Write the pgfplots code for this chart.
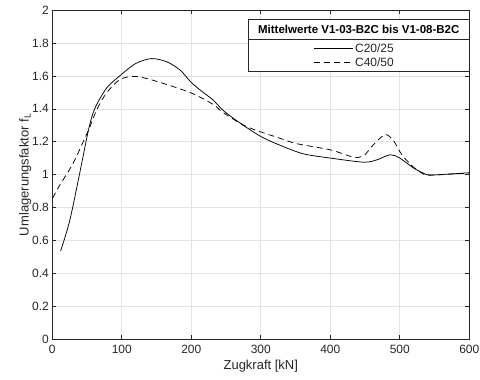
\documentclass[border=0pt]{standalone}
\usepackage{fontspec}
\setmainfont{Liberation Sans}
\usepackage{pgfplots}
\pgfplotsset{compat=1.18}
\definecolor{axc}{HTML}{262626}
\definecolor{gridc}{HTML}{E3E3E3}
\begin{document}
\begin{tikzpicture}
\begin{axis}[
  scale only axis, width=417pt, height=329.4pt,
  xmin=0, xmax=600, ymin=0, ymax=2,
  xtick={0,100,...,600}, ytick={0,0.2,...,2.01},
  /pgf/number format/assume math mode=true,
  tick label style={font=\fontsize{12}{14}\selectfont, color=axc},
  xticklabel style={yshift=-2pt},
  label style={font=\fontsize{13}{15}\selectfont, color=axc},
  xlabel={Zugkraft [kN]}, ylabel={Umlagerungsfaktor f$_{\mathrm{L}}$},
  xlabel style={yshift=0pt},
  ylabel style={yshift=-6pt},
  axis line style={color=axc, line width=0.6pt},
  tick style={color=axc, line width=0.6pt},
  tick align=inside, major tick length=4pt,
  grid=major, major grid style={color=gridc, line width=0.6pt},
  every axis plot/.append style={black, line width=0.75pt},
]
\addplot[smooth, tension=0.5] coordinates {
(12,0.537) (25,0.72) (39,1.0) (52,1.27) (61,1.40) (78,1.525) (97,1.60) (120,1.675) (143,1.705) (165,1.685) (184,1.635) (200,1.56) (217,1.50) (231,1.455) (246,1.39) (270,1.314) (300,1.232) (327,1.18) (361,1.127) (400,1.101) (448,1.076) (467,1.09) (486,1.121) (500,1.101) (520,1.04) (539,1.0) (548,0.998) (575,1.005) (600,1.012)
};
\addplot[smooth, tension=0.5, dash pattern=on 6pt off 4pt] coordinates {
(0.5,0.858) (11,0.939) (30,1.07) (52,1.27) (64,1.395) (78,1.496) (97,1.577) (119,1.597) (150,1.567) (200,1.496) (232,1.425) (245,1.38) (279,1.293) (327,1.222) (352,1.188) (400,1.151) (433,1.107) (448,1.115) (462,1.182) (479,1.243) (491,1.206) (503,1.121) (520,1.045) (536,1.0) (548,0.998) (575,1.004) (600,1.01)
};
% legend
\filldraw[fill=white, draw=axc, line width=0.6pt] (axis cs:282,1.627) rectangle (axis cs:600,1.9417);
\draw[axc, line width=0.6pt] (axis cs:282,1.82) -- (axis cs:600,1.82);
\node[font=\fontsize{11.5}{13}\selectfont\bfseries, text=black] at (axis cs:441,1.881) {Mittelwerte V1-03-B2C bis V1-08-B2C};
\draw[black, line width=0.75pt] (axis cs:377,1.765) -- (axis cs:433,1.765);
\draw[black, line width=0.75pt, dash pattern=on 6pt off 4pt] (axis cs:377,1.684) -- (axis cs:433,1.684);
\node[anchor=west, inner sep=1pt, font=\fontsize{12}{14}\selectfont, text=axc] at (axis cs:434,1.765) {C20/25};
\node[anchor=west, inner sep=1pt, font=\fontsize{12}{14}\selectfont, text=axc] at (axis cs:434,1.684) {C40/50};
\end{axis}
\pgfresetboundingbox
\path (current axis.south west) ++(-52.3pt,-40.6pt) rectangle ++(480pt,380pt);
\end{tikzpicture}
\end{document}
